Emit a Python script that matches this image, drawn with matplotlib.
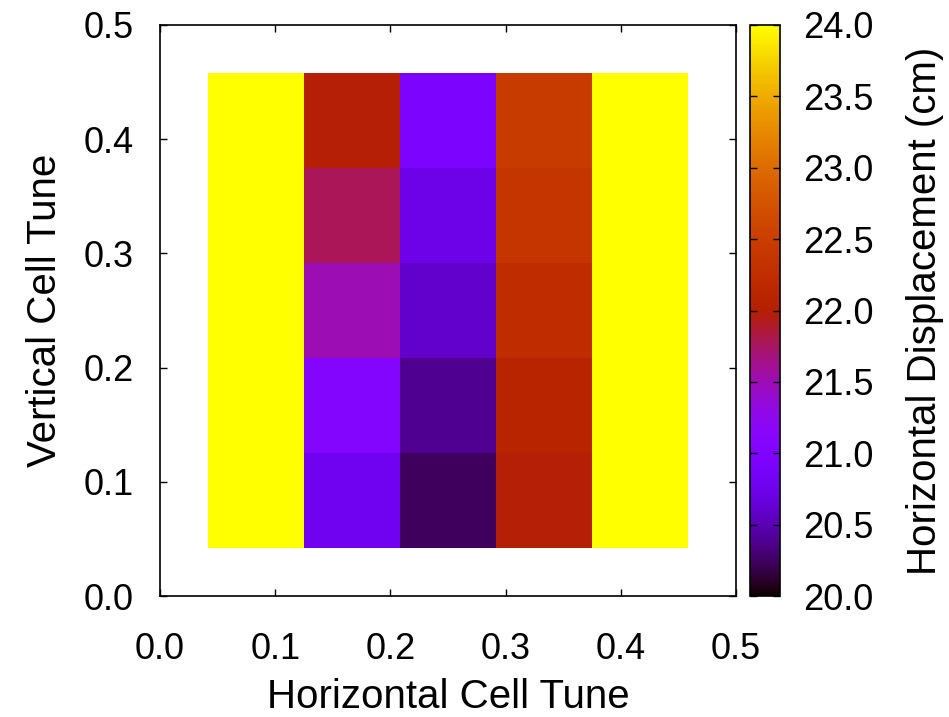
import numpy as np
import matplotlib
matplotlib.use('Agg')
import matplotlib.pyplot as plt
from matplotlib.colors import ListedColormap

plt.rcParams['font.family'] = ['Liberation Sans', 'DejaVu Sans']

# ── data: tune grid and displacement (cm) ────────────────────────────────
qx = [1/12, 2/12, 3/12, 4/12, 5/12]
qy = [1/12, 2/12, 3/12, 4/12, 5/12]
# rows = qy (bottom -> top), cols = qx (left -> right)
disp = [
    [24.0, 20.79, 20.24, 21.99, 24.0],
    [24.0, 21.07, 20.39, 22.08, 24.0],
    [24.0, 21.50, 20.59, 22.22, 24.0],
    [24.0, 21.78, 20.74, 22.36, 24.0],
    [24.0, 21.99, 20.95, 22.46, 24.0],
]
xticks = [0.0, 0.1, 0.2, 0.3, 0.4, 0.5]
yticks = [0.0, 0.1, 0.2, 0.3, 0.4, 0.5]
cticks = [20.0, 20.5, 21.0, 21.5, 22.0, 22.5, 23.0, 23.5, 24.0]

# gnuplot default palette (rgbformulae 7,5,15)
t = np.linspace(0, 1, 512)
pal = np.stack([np.sqrt(t), t**3, np.clip(np.sin(2*np.pi*t), 0, 1)], axis=1)
cmap = ListedColormap(pal)

FS = 26      # tick labels
LFS = 29     # axis labels
W, H = 949, 717
fig = plt.figure(figsize=(W/100, H/100), dpi=100)

L, R, B, T = 160, 736, 596, 25
ax = fig.add_axes([L/W, 1 - B/H, (R-L)/W, (B-T)/H])

def edges(c):
    c = np.asarray(c)
    h = (c[1] - c[0]) / 2
    return np.concatenate([c - h, [c[-1] + h]])

mesh = ax.pcolormesh(edges(qx), edges(qy), np.array(disp), cmap=cmap,
                     vmin=20, vmax=24, shading='flat')

ax.set_xlim(0, 0.5)
ax.set_ylim(0, 0.5)
ax.set_xticks(xticks)
ax.set_yticks(yticks)
ax.set_xticklabels([f"{v:.1f}" for v in xticks])
ax.set_yticklabels([f"{v:.1f}" for v in yticks])
ax.tick_params(direction='in', length=5, width=1, top=True, right=True,
               labelsize=FS)
ax.tick_params(axis='x', pad=26)
ax.tick_params(axis='y', pad=19)
for s in ax.spines.values():
    s.set_linewidth(1.2)
ax.set_xlabel("Horizontal Cell Tune", fontsize=LFS, labelpad=8)
ax.set_ylabel("Vertical Cell Tune", fontsize=LFS, labelpad=14)

cax = fig.add_axes([750/W, 1 - B/H, 30/W, (B-T)/H])
cb = fig.colorbar(mesh, cax=cax, ticks=cticks)
cb.ax.set_yticklabels([f"{v:.1f}" for v in cticks])
cb.ax.tick_params(direction='in', length=5, width=1, left=True, right=True,
                  labelsize=FS, pad=17)
cb.outline.set_linewidth(1.2)
cb.set_label("Horizontal Displacement (cm)", fontsize=LFS, labelpad=23)

fig.savefig("out.png", dpi=100)
